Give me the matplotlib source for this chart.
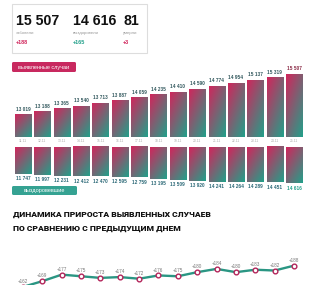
import numpy as np
import matplotlib
matplotlib.use("Agg")
import matplotlib.pyplot as plt
from matplotlib.patches import FancyBboxPatch, Rectangle

dates = ["11.11", "12.11", "13.11", "14.11", "15.11", "16.11", "17.11", "18.11",
         "19.11", "20.11", "21.11", "22.11", "23.11", "24.11", "25.11"]
cases = [13019, 13188, 13365, 13540, 13713, 13887, 14059, 14235,
         14410, 14590, 14774, 14954, 15137, 15319, 15507]
recovered = [11747, 11997, 12231, 12412, 12470, 12595, 12759, 13195,
             13509, 13920, 14241, 14264, 14289, 14451, 14616]
growth = [162, 169, 177, 175, 173, 174, 172, 176, 175, 180, 184, 180, 183, 182, 188]

totals = ["15 507", "14 616", "81"]
total_labels = ["заболели", "выздоровели", "умерли"]
total_deltas = ["+188", "+165", "+3"]

CRIMSON = "#d0265c"
TEAL = "#22a08a"
LINE_TEAL = "#2a9683"
LABEL_DARK = "#33595e"
SANS = "Liberation Sans"

W, H = 315, 285
fig = plt.figure(figsize=(W / 100, H / 100), dpi=100)
fig.patch.set_facecolor("white")


def px_axes(x0, y0, x1, y1):
    # pixel box, y measured from the top
    ax = fig.add_axes([x0 / W, 1 - y1 / H, (x1 - x0) / W, (y1 - y0) / H])
    ax.set_axis_off()
    return ax


def fmt(v):
    return f"{v:,}".replace(",", " ")


def grad_bars(ax, vals, base, flip=False):
    c1 = np.array(matplotlib.colors.to_rgb(CRIMSON))
    c2 = np.array(matplotlib.colors.to_rgb(TEAL))
    n = 40
    u = np.linspace(0, 1, n)[None, :]
    v = np.linspace(1, 0, n)[:, None]  # row 0 = screen bottom
    t = np.clip((u * 0.9 + v * 1.1) / 2, 0, 1)
    img = c1[None, None, :] * (1 - t[..., None]) + c2[None, None, :] * t[..., None]
    bars = ax.bar(range(len(vals)), vals, width=0.83, color="none", edgecolor="none")
    for b, val in zip(bars, vals):
        x0 = b.get_x()
        x1 = x0 + b.get_width()
        if flip:
            ext = (x0, x1, val, base)
        else:
            ext = (x0, x1, base, val)
        im = ax.imshow(img, extent=ext, origin="lower", aspect="auto",
                       interpolation="bilinear")
        im.set_clip_path(b)
    return bars


# --- summary box
ax0 = px_axes(0, 0, W, 60)
ax0.set_xlim(0, W)
ax0.set_ylim(60, 0)
ax0.add_patch(Rectangle((12, 4), 135, 49, fill=False, edgecolor="#dddddd", lw=0.8))
xs = [16, 73, 123]
delta_colors = [CRIMSON, TEAL, CRIMSON]
for x, big, lab, d, dc in zip(xs, totals, total_labels, total_deltas, delta_colors):
    ax0.text(x, 21, big, fontsize=10.2, fontweight="bold", family=SANS,
             va="center", ha="left", color="#111111")
    ax0.text(x, 33, lab, fontsize=3.1, family=SANS, va="center", ha="left", color="#999999")
    ax0.text(x, 42, d, fontsize=4.0, fontweight="bold", family=SANS,
             va="center", ha="left", color=dc)

# --- pills
ax0p = px_axes(0, 55, W, 200)
ax0p.set_xlim(0, W)
ax0p.set_ylim(200, 55)
ax0p.add_patch(FancyBboxPatch((12, 62), 64, 10, boxstyle="round,pad=0,rounding_size=1.5",
                              facecolor="#c8295f", edgecolor="none"))
ax0p.text(44, 67.3, "выявленные случаи", fontsize=4.0, family=SANS, color="white",
          ha="center", va="center")
ax0p.add_patch(FancyBboxPatch((12, 186), 65, 9, boxstyle="round,pad=0,rounding_size=1.5",
                              facecolor="#35a292", edgecolor="none"))
ax0p.text(44.5, 190.8, "выздоровевшие", fontsize=4.0, family=SANS, color="white",
          ha="center", va="center")

# --- cases bars
ax1 = px_axes(13.3, 74, 303.7, 137)
base1 = 11590
grad_bars(ax1, cases, base1)
ax1.set_xlim(-0.5, len(cases) - 0.5)
ax1.set_ylim(base1, max(cases))
for i, v in enumerate(cases):
    col = "#8a2a45" if i == len(cases) - 1 else LABEL_DARK
    ax1.annotate(fmt(v), (i, v), xytext=(0, 1.8), textcoords="offset points",
                 ha="center", va="bottom", fontsize=3.4, fontweight="bold", family=SANS,
                 color=col, annotation_clip=False)
    ax1.annotate(dates[i], (i, base1), xytext=(0, -2.8), textcoords="offset points",
                 ha="center", va="center", fontsize=2.4, family=SANS, color="#aaaaaa",
                 annotation_clip=False)

# --- recovered bars (hanging down)
ax2 = px_axes(13.3, 147, 303.7, 183)
base2 = 3140
grad_bars(ax2, recovered, base2, flip=True)
ax2.set_xlim(-0.5, len(recovered) - 0.5)
ax2.set_ylim(max(recovered), base2)
for i, v in enumerate(recovered):
    col = TEAL if i == len(recovered) - 1 else "#2d6a78"
    ax2.annotate(fmt(v), (i, v), xytext=(0, -3.6), textcoords="offset points",
                 ha="center", va="center", fontsize=3.4, fontweight="bold", family=SANS,
                 color=col, annotation_clip=False)

# --- title
title_font = ["Roboto", "DejaVu Sans"]
fig.text(13 / W, 1 - 214 / H, "ДИНАМИКА ПРИРОСТА ВЫЯВЛЕННЫХ СЛУЧАЕВ", fontsize=6.1,
         fontweight="heavy", family=title_font, va="center", ha="left", color="#111111")
fig.text(13 / W, 1 - 229 / H, "ПО СРАВНЕНИЮ С ПРЕДЫДУЩИМ ДНЕМ", fontsize=6.1,
         fontweight="heavy", family=title_font, va="center", ha="left", color="#111111")

# --- growth line
ax3 = px_axes(13.3, 255, 303.7, 290)
x = np.arange(len(growth))
ax3.plot(x, growth, color=LINE_TEAL, lw=1.7, zorder=2)
ax3.plot(x, growth, "o", ms=3.4, mfc="white", mec="#b3245a", mew=1.0, zorder=3)
ax3.set_xlim(-0.5, len(growth) - 0.5)
ax3.set_ylim(158.2, 201)
for i, g in enumerate(growth):
    ax3.annotate(f"+{g}", (i, g), xytext=(0, 3.8), textcoords="offset points",
                 ha="center", va="center", fontsize=3.3, family=SANS, color="#777777",
                 annotation_clip=False)

fig.savefig("out.png", dpi=100, facecolor="white")
